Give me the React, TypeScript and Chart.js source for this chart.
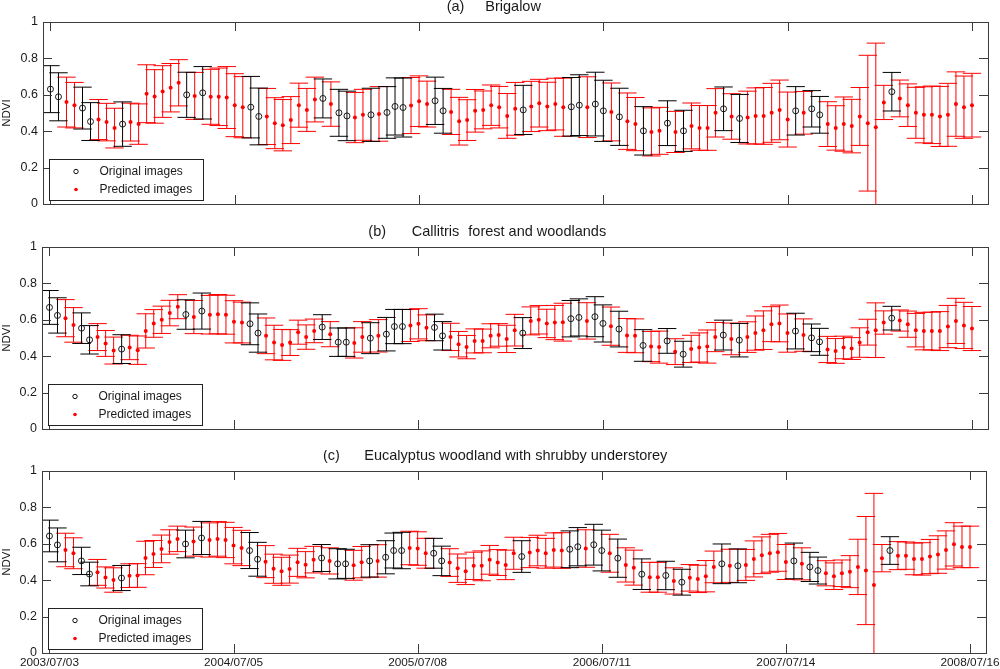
import React, { useEffect, useRef } from 'react';
import { Chart, registerables } from 'chart.js';

Chart.register(...registerables);

// ---------- data ----------
const DATE_LABELS = ['2003/07/03', '2004/07/05', '2005/07/08', '2006/07/11', '2007/07/14', '2008/07/16'];
const DATE_TICK_INDEX = [0, 23, 46, 69, 92, 115];
const Y_MIN = 0;
const Y_MAX = 1;
const Y_STEP = 0.2;

// composite indices (16-day periods) that are original images; all others are predicted
const ORIGINAL_INDEX = [0, 1, 4, 5, 9, 17, 19, 25, 26, 34, 36, 37, 40, 42, 43, 44, 48, 49, 59, 65, 66, 68, 69, 71, 74, 77, 79, 84, 86, 93, 95, 96, 105];

const BRIGALOW_MEAN = [
  0.631, 0.589, 0.560, 0.543, 0.527, 0.453, 0.464, 0.450, 0.417, 0.439,
  0.450, 0.439, 0.606, 0.591, 0.618, 0.639, 0.666, 0.600, 0.594, 0.611,
  0.589, 0.589, 0.585, 0.543, 0.532, 0.532, 0.481, 0.481, 0.444, 0.433,
  0.461, 0.543, 0.517, 0.574, 0.580, 0.549, 0.501, 0.484, 0.475, 0.490,
  0.490, 0.495, 0.503, 0.536, 0.530, 0.541, 0.565, 0.549, 0.567, 0.512,
  0.506, 0.455, 0.461, 0.512, 0.517, 0.543, 0.532, 0.484, 0.523, 0.517,
  0.536, 0.554, 0.536, 0.549, 0.532, 0.534, 0.543, 0.532, 0.549, 0.512,
  0.506, 0.479, 0.455, 0.439, 0.402, 0.396, 0.402, 0.444, 0.396, 0.402,
  0.429, 0.418, 0.418, 0.501, 0.523, 0.481, 0.470, 0.475, 0.484, 0.484,
  0.501, 0.517, 0.464, 0.512, 0.501, 0.523, 0.490, 0.439, 0.418, 0.439,
  0.428, 0.481, 0.444, 0.422, 0.558, 0.617, 0.580, 0.543, 0.501, 0.490,
  0.490, 0.481, 0.490, 0.549, 0.532, 0.543,
];
const BRIGALOW_SD = [
  0.129, 0.132, 0.137, 0.125, 0.115, 0.104, 0.110, 0.103, 0.109, 0.122,
  0.104, 0.111, 0.159, 0.147, 0.142, 0.133, 0.127, 0.124, 0.129, 0.144,
  0.151, 0.158, 0.170, 0.173, 0.168, 0.169, 0.156, 0.154, 0.140, 0.141,
  0.129, 0.121, 0.118, 0.123, 0.107, 0.122, 0.129, 0.136, 0.138, 0.140,
  0.146, 0.150, 0.142, 0.157, 0.162, 0.154, 0.139, 0.126, 0.130, 0.123,
  0.124, 0.131, 0.112, 0.117, 0.104, 0.111, 0.114, 0.123, 0.145, 0.135,
  0.138, 0.131, 0.133, 0.142, 0.160, 0.161, 0.167, 0.167, 0.175, 0.168,
  0.159, 0.157, 0.155, 0.146, 0.133, 0.132, 0.129, 0.123, 0.113, 0.113,
  0.126, 0.123, 0.123, 0.133, 0.120, 0.125, 0.132, 0.145, 0.154, 0.156,
  0.162, 0.164, 0.151, 0.133, 0.117, 0.100, 0.101, 0.123, 0.122, 0.149,
  0.147, 0.159, 0.373, 0.462, 0.094, 0.106, 0.101, 0.117, 0.140, 0.154,
  0.158, 0.165, 0.173, 0.177, 0.171, 0.175,
];

const CALLITRIS_MEAN = [
  0.668, 0.624, 0.609, 0.572, 0.554, 0.490, 0.505, 0.470, 0.431, 0.439,
  0.448, 0.433, 0.539, 0.580, 0.600, 0.637, 0.672, 0.629, 0.615, 0.648,
  0.628, 0.631, 0.628, 0.589, 0.585, 0.578, 0.527, 0.512, 0.475, 0.462,
  0.475, 0.532, 0.505, 0.539, 0.560, 0.521, 0.477, 0.477, 0.473, 0.506,
  0.499, 0.512, 0.521, 0.563, 0.563, 0.569, 0.578, 0.556, 0.558, 0.512,
  0.506, 0.466, 0.450, 0.484, 0.484, 0.512, 0.517, 0.495, 0.543, 0.527,
  0.594, 0.600, 0.580, 0.585, 0.587, 0.606, 0.613, 0.594, 0.617, 0.580,
  0.565, 0.549, 0.514, 0.512, 0.459, 0.453, 0.450, 0.484, 0.425, 0.411,
  0.440, 0.448, 0.453, 0.505, 0.516, 0.495, 0.488, 0.505, 0.527, 0.543,
  0.576, 0.580, 0.527, 0.538, 0.516, 0.501, 0.479, 0.437, 0.429, 0.448,
  0.442, 0.475, 0.532, 0.543, 0.585, 0.609, 0.596, 0.576, 0.543, 0.538,
  0.538, 0.538, 0.563, 0.594, 0.569, 0.552,
];
const CALLITRIS_SD = [
  0.093, 0.097, 0.102, 0.095, 0.084, 0.078, 0.074, 0.071, 0.074, 0.079,
  0.067, 0.078, 0.094, 0.076, 0.075, 0.070, 0.066, 0.081, 0.091, 0.099,
  0.106, 0.108, 0.107, 0.116, 0.112, 0.115, 0.105, 0.098, 0.095, 0.085,
  0.071, 0.066, 0.067, 0.065, 0.068, 0.069, 0.078, 0.078, 0.083, 0.084,
  0.085, 0.089, 0.092, 0.094, 0.094, 0.088, 0.083, 0.071, 0.073, 0.078,
  0.075, 0.070, 0.064, 0.066, 0.065, 0.066, 0.062, 0.075, 0.087, 0.085,
  0.077, 0.078, 0.078, 0.094, 0.104, 0.100, 0.102, 0.100, 0.110, 0.102,
  0.105, 0.098, 0.093, 0.093, 0.087, 0.083, 0.088, 0.068, 0.071, 0.071,
  0.075, 0.080, 0.091, 0.080, 0.082, 0.087, 0.092, 0.084, 0.094, 0.106,
  0.096, 0.101, 0.105, 0.098, 0.089, 0.076, 0.074, 0.072, 0.068, 0.062,
  0.060, 0.081, 0.071, 0.150, 0.064, 0.065, 0.058, 0.072, 0.092, 0.103,
  0.104, 0.107, 0.116, 0.124, 0.127, 0.121,
];

const EUCALYPTUS_MEAN = [
  0.643, 0.594, 0.566, 0.548, 0.506, 0.434, 0.443, 0.415, 0.401, 0.412,
  0.425, 0.426, 0.522, 0.544, 0.572, 0.610, 0.627, 0.599, 0.612, 0.632,
  0.621, 0.627, 0.621, 0.590, 0.577, 0.563, 0.515, 0.502, 0.463, 0.449,
  0.461, 0.498, 0.485, 0.513, 0.522, 0.506, 0.490, 0.490, 0.482, 0.499,
  0.506, 0.506, 0.526, 0.563, 0.563, 0.577, 0.574, 0.548, 0.548, 0.506,
  0.497, 0.466, 0.449, 0.479, 0.479, 0.512, 0.497, 0.484, 0.548, 0.530,
  0.552, 0.563, 0.548, 0.566, 0.563, 0.570, 0.584, 0.574, 0.595, 0.563,
  0.548, 0.521, 0.484, 0.469, 0.433, 0.416, 0.416, 0.426, 0.396, 0.389,
  0.413, 0.407, 0.422, 0.473, 0.490, 0.479, 0.479, 0.484, 0.517, 0.537,
  0.548, 0.553, 0.500, 0.506, 0.490, 0.473, 0.453, 0.438, 0.422, 0.438,
  0.447, 0.473, 0.453, 0.373, 0.521, 0.563, 0.535, 0.535, 0.517, 0.517,
  0.530, 0.541, 0.566, 0.597, 0.583, 0.583,
];
const EUCALYPTUS_SD = [
  0.087, 0.093, 0.092, 0.085, 0.075, 0.065, 0.071, 0.058, 0.067, 0.069,
  0.065, 0.065, 0.092, 0.074, 0.076, 0.067, 0.070, 0.076, 0.080, 0.091,
  0.094, 0.095, 0.097, 0.100, 0.097, 0.099, 0.093, 0.088, 0.080, 0.077,
  0.077, 0.077, 0.072, 0.073, 0.074, 0.072, 0.083, 0.080, 0.082, 0.086,
  0.089, 0.089, 0.091, 0.096, 0.100, 0.092, 0.092, 0.082, 0.082, 0.081,
  0.076, 0.078, 0.073, 0.075, 0.082, 0.079, 0.071, 0.081, 0.088, 0.087,
  0.083, 0.084, 0.082, 0.094, 0.098, 0.101, 0.105, 0.103, 0.112, 0.112,
  0.104, 0.105, 0.094, 0.096, 0.084, 0.082, 0.082, 0.078, 0.072, 0.071,
  0.073, 0.075, 0.086, 0.087, 0.109, 0.091, 0.093, 0.085, 0.099, 0.101,
  0.104, 0.104, 0.096, 0.098, 0.088, 0.080, 0.074, 0.069, 0.073, 0.073,
  0.088, 0.152, 0.297, 0.504, 0.075, 0.076, 0.077, 0.075, 0.087, 0.089,
  0.094, 0.103, 0.105, 0.119, 0.114, 0.114,
];

// ---------- styling ----------
const FONT = "'Liberation Sans', Arial, Helvetica, sans-serif";
const X_MIN = -0.93;
const X_MAX = 117.0;
const CAP = 1.15; // half width of error-bar tee, in x units (MATLAB style)
const RED = '#ff0000';
const BLACK = '#000000';

type Area = { left: number; right: number; top: number; bottom: number };
type TitlePart = { text: string; x: number };

function buildSeries(mean: number[], sd: number[], indices: number[]) {
  const points: any[] = [];
  const stems: any[] = [];
  const caps: any[] = [];
  for (const i of indices) {
    const lo = mean[i] - sd[i];
    const hi = mean[i] + sd[i];
    points.push({ x: i, y: mean[i] });
    stems.push({ x: i, y: lo }, { x: i, y: hi }, { x: i, y: null });
    caps.push(
      { x: i - CAP, y: lo }, { x: i + CAP, y: lo }, { x: i, y: null },
      { x: i - CAP, y: hi }, { x: i + CAP, y: hi }, { x: i, y: null },
    );
  }
  return { points, stems, caps };
}

function makeFramePlugin(titleParts: TitlePart[]) {
  return {
    id: 'matlabFrame',
    afterDatasetsDraw(chart: any) {
      const ctx = chart.ctx as CanvasRenderingContext2D;
      const a = chart.chartArea;
      const xs = chart.scales.x;
      const ys = chart.scales.y;
      ctx.save();
      ctx.strokeStyle = '#3c3c3c';
      ctx.lineWidth = 1;
      ctx.strokeRect(Math.round(a.left) + 0.5, Math.round(a.top) + 0.5, Math.round(a.right - a.left), Math.round(a.bottom - a.top));
      const TL = 9;
      ctx.beginPath();
      for (let v = Y_MIN; v <= Y_MAX + 1e-9; v += Y_STEP) {
        const py = Math.round(ys.getPixelForValue(v)) + 0.5;
        ctx.moveTo(a.left, py); ctx.lineTo(a.left + TL, py);
        ctx.moveTo(a.right, py); ctx.lineTo(a.right - TL, py);
      }
      for (const t of DATE_TICK_INDEX) {
        const px = Math.round(xs.getPixelForValue(t)) + 0.5;
        ctx.moveTo(px, a.bottom); ctx.lineTo(px, a.bottom - TL);
        ctx.moveTo(px, a.top); ctx.lineTo(px, a.top + TL);
      }
      ctx.stroke();

      // legend box (inside axes, lower left)
      const bx = Math.round(a.left + 6) + 0.5;
      const by = Math.round(a.bottom - 45) + 0.5;
      const bw = 154;
      const bh = 41;
      ctx.fillStyle = '#ffffff';
      ctx.fillRect(bx, by, bw, bh);
      ctx.strokeStyle = '#222222';
      ctx.strokeRect(bx, by, bw, bh);
      const mx = a.left + 33;
      const tx = a.left + 56.5;
      const r1 = by + 12;
      const r2 = by + 30;
      ctx.beginPath();
      ctx.arc(mx, r1, 2.2, 0, Math.PI * 2);
      ctx.strokeStyle = '#111111';
      ctx.lineWidth = 1;
      ctx.stroke();
      ctx.beginPath();
      ctx.arc(mx, r2, 1.8, 0, Math.PI * 2);
      ctx.fillStyle = RED;
      ctx.fill();
      ctx.fillStyle = '#1a1a1a';
      ctx.font = `12px ${FONT}`;
      ctx.textAlign = 'left';
      ctx.textBaseline = 'middle';
      ctx.fillText('Original images', tx, r1);
      ctx.fillText('Predicted images', tx, r2);
      ctx.restore();
    },
    afterDraw(chart: any) {
      const ctx = chart.ctx as CanvasRenderingContext2D;
      const a = chart.chartArea;
      ctx.save();
      ctx.fillStyle = '#1a1a1a';
      ctx.font = `14.5px ${FONT}`;
      ctx.textAlign = 'left';
      ctx.textBaseline = 'middle';
      for (const p of titleParts) ctx.fillText(p.text, p.x, a.top - 15);
      ctx.restore();
    },
  };
}

type PanelProps = {
  top: number;
  height: number;
  area: Area;
  mean: number[];
  sd: number[];
  titleParts: TitlePart[];
  showDates: boolean;
};

function Panel({ top, height, area, mean, sd, titleParts, showDates }: PanelProps) {
  const ref = useRef<HTMLCanvasElement | null>(null);

  useEffect(() => {
    if (!ref.current) return;
    const all = Array.from({ length: mean.length }, (_, i) => i);
    const predictedIdx = all.filter((i) => !ORIGINAL_INDEX.includes(i));
    const orig = buildSeries(mean, sd, ORIGINAL_INDEX);
    const pred = buildSeries(mean, sd, predictedIdx);
    const xAxisHeight = showDates ? height - area.bottom : 0;

    const lineDs = (data: any[], color: string, order: number) => ({
      data,
      borderColor: color,
      borderWidth: 1,
      pointRadius: 0,
      pointHitRadius: 0,
      spanGaps: false,
      fill: false,
      tension: 0,
      order,
    });

    const chart = new Chart(ref.current, {
      type: 'line',
      data: {
        datasets: [
          {
            label: 'Original images',
            data: orig.points,
            showLine: false,
            pointStyle: 'circle',
            pointRadius: 3,
            pointBorderWidth: 1,
            pointBorderColor: '#1a1a1a',
            pointBackgroundColor: 'rgba(0,0,0,0)',
            order: 0,
          } as any,
          {
            label: 'Predicted images',
            data: pred.points,
            showLine: false,
            pointStyle: 'circle',
            pointRadius: 2,
            pointBorderWidth: 0,
            pointBackgroundColor: RED,
            order: 1,
          } as any,
          lineDs(orig.stems, BLACK, 2),
          lineDs(orig.caps, BLACK, 3),
          lineDs(pred.stems, RED, 4),
          lineDs(pred.caps, RED, 5),
        ],
      },
      options: {
        animation: false,
        responsive: false,
        events: [],
        layout: {
          padding: {
            left: 0,
            right: 1000 - area.right,
            top: area.top,
            bottom: showDates ? 0 : height - area.bottom,
          },
        },
        plugins: {
          legend: { display: false },
          tooltip: { enabled: false },
          title: { display: false },
        },
        scales: {
          x: {
            type: 'linear',
            min: X_MIN,
            max: X_MAX,
            display: showDates,
            grid: { display: false, drawTicks: false, tickLength: 0 },
            border: { display: false },
            afterBuildTicks: (scale: any) => {
              scale.ticks = DATE_TICK_INDEX.map((v) => ({ value: v }));
            },
            afterFit: (scale: any) => {
              scale.height = xAxisHeight;
              scale.paddingLeft = 0;
              scale.paddingRight = 0;
            },
            ticks: {
              autoSkip: false,
              maxRotation: 0,
              minRotation: 0,
              padding: 3,
              color: '#1a1a1a',
              font: { family: FONT, size: 11.8 },
              callback: (value: any) => {
                const k = DATE_TICK_INDEX.indexOf(Number(value));
                return k >= 0 ? DATE_LABELS[k] : '';
              },
            },
          },
          y: {
            type: 'linear',
            min: Y_MIN,
            max: Y_MAX,
            grid: { display: false, drawTicks: false, tickLength: 0 },
            border: { display: false },
            afterFit: (scale: any) => {
              scale.width = area.left;
              scale.paddingTop = 0;
              scale.paddingBottom = 0;
            },
            ticks: {
              stepSize: Y_STEP,
              padding: 5,
              color: '#1a1a1a',
              font: { family: FONT, size: 12.5 },
              callback: (value: any) => String(Math.round(Number(value) * 10) / 10),
            },
            title: {
              display: true,
              text: 'NDVI',
              color: '#1a1a1a',
              padding: { top: 0, bottom: 0 },
              font: { family: FONT, size: 11.5 },
            },
          },
        },
      } as any,
      plugins: [makeFramePlugin(titleParts)],
    });
    return () => chart.destroy();
  }, []);

  return (
    <canvas
      ref={ref}
      width={1000}
      height={height}
      style={{ position: 'absolute', left: 0, top, width: 1000, height, display: 'block' }}
    />
  );
}

export default function App() {
  return (
    <div style={{ position: 'absolute', left: 0, top: 0, width: 1000, height: 669, background: '#ffffff', overflow: 'hidden' }}>
      <Panel
        top={0}
        height={225}
        area={{ left: 43, right: 988, top: 22, bottom: 204 }}
        mean={BRIGALOW_MEAN}
        sd={BRIGALOW_SD}
        titleParts={[{ text: '(a)', x: 446.7 }, { text: 'Brigalow', x: 485.3 }]}
        showDates={false}
      />
      <Panel
        top={225}
        height={225}
        area={{ left: 42, right: 988, top: 22, bottom: 204 }}
        mean={CALLITRIS_MEAN}
        sd={CALLITRIS_SD}
        titleParts={[{ text: '(b)', x: 368.3 }, { text: 'Callitris', x: 411.7 }, { text: 'forest and woodlands', x: 468.3 }]}
        showDates={false}
      />
      <Panel
        top={450}
        height={219}
        area={{ left: 42, right: 986, top: 21, bottom: 203 }}
        mean={EUCALYPTUS_MEAN}
        sd={EUCALYPTUS_SD}
        titleParts={[{ text: '(c)', x: 323 }, { text: 'Eucalyptus woodland with shrubby understorey', x: 364.3 }]}
        showDates={true}
      />
    </div>
  );
}
